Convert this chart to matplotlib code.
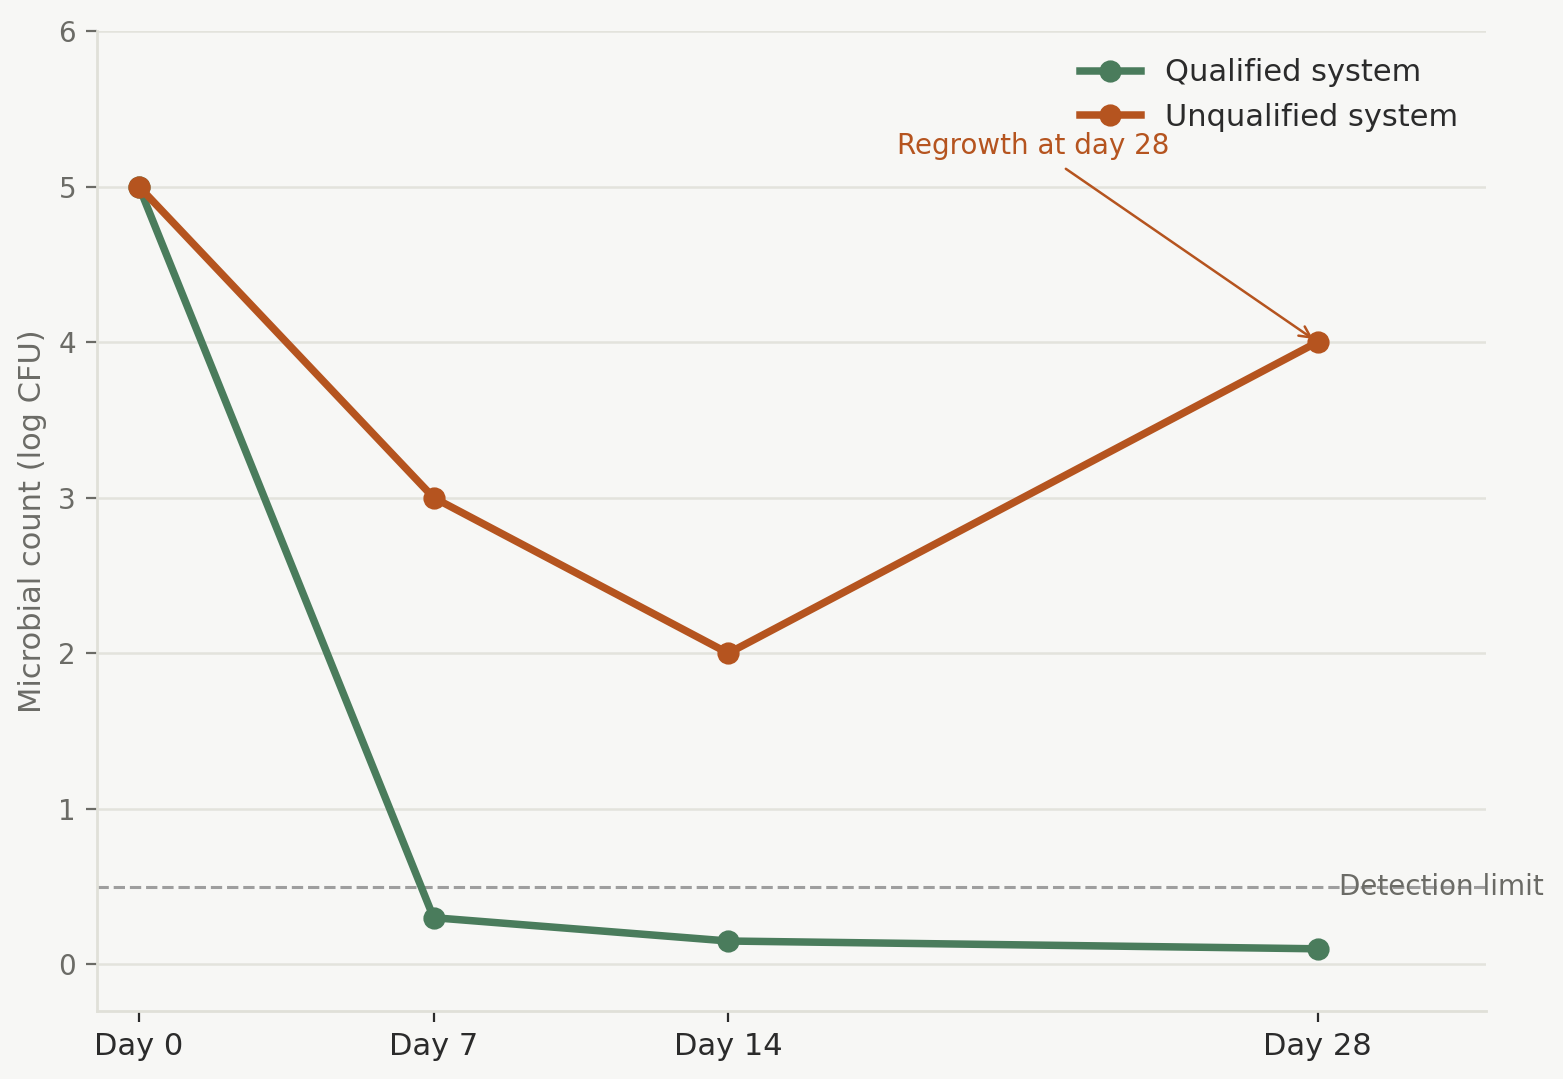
import matplotlib.pyplot as plt

days = [0, 7, 14, 28]
day_labels = ['Day 0', 'Day 7', 'Day 14', 'Day 28']
qualified = [5.0, 0.3, 0.15, 0.1]
unqualified = [5.0, 3.0, 2.0, 4.0]
detection_limit = 0.5

bg = '#f7f7f5'
green = '#4a7c5c'
orange = '#b5541f'

fig = plt.figure(figsize=(7.815, 5.395), dpi=200, facecolor=bg)
ax = fig.add_axes([0.062, 0.063, 0.8887, 0.9083], facecolor=bg)

ax.plot(days, qualified, color=green, lw=2.7, marker='o', ms=7, label='Qualified system', zorder=3)
ax.plot(days, unqualified, color=orange, lw=2.7, marker='o', ms=7, label='Unqualified system', zorder=3)

ax.axhline(detection_limit, color='#9e9e9e', lw=1.1, ls='--', zorder=2)
ax.text(28.5, detection_limit, 'Detection limit', color='#6b6b66', fontsize=10,
        va='center', ha='left', clip_on=False)

ax.annotate('Regrowth at day 28', xy=(28, 4.0), xytext=(18, 5.26),
            color=orange, fontsize=10, va='center', ha='left',
            arrowprops=dict(arrowstyle='->', color=orange, lw=0.9))

ax.set_xlim(-1, 32)
ax.set_ylim(-0.3, 6)
ax.set_xticks(days)
ax.set_xticklabels(day_labels)
ax.set_yticks(range(0, 7))
ax.grid(axis='y', color='#e3e3dc', lw=0.9)
ax.set_axisbelow(True)

for s in ['top', 'right']:
    ax.spines[s].set_visible(False)
for s in ['left', 'bottom']:
    ax.spines[s].set_color('#e0e0d8')
    ax.spines[s].set_linewidth(1.0)

ax.tick_params(axis='x', colors='#2b2b2b', labelsize=11, length=4)
ax.tick_params(axis='y', colors='#6b6b66', labelsize=10, length=4)
ax.set_ylabel('Microbial count (log CFU)', color='#6b6b66', fontsize=11)

leg = ax.legend(loc='upper right', frameon=False, fontsize=11)
for t in leg.get_texts():
    t.set_color('#2b2b2b')

fig.savefig('out.png', dpi=200, facecolor=bg)
